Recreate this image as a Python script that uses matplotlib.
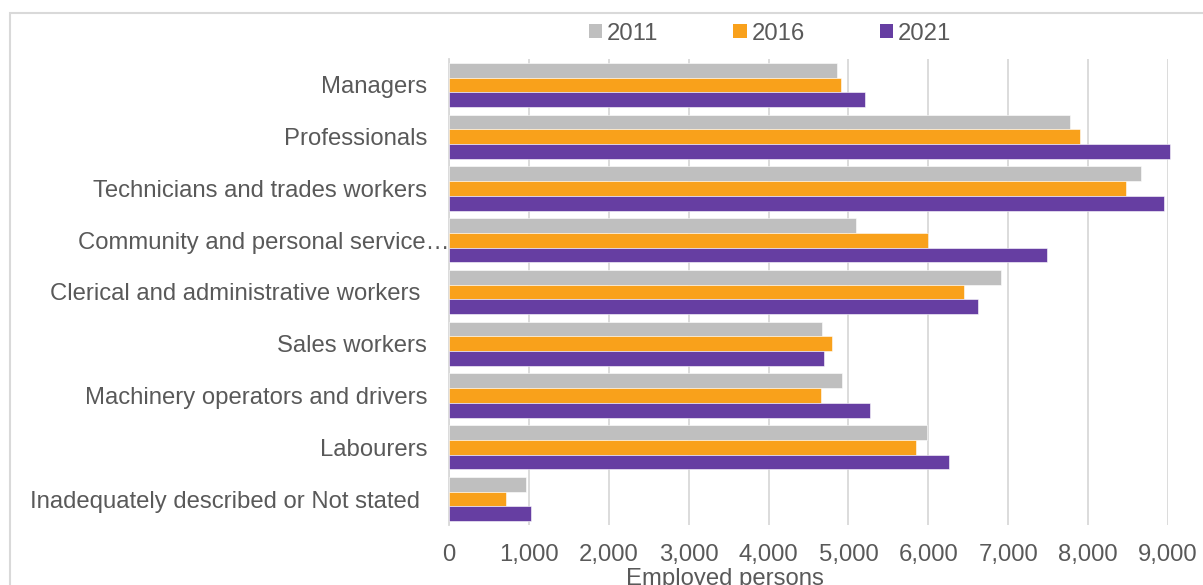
import matplotlib
matplotlib.use("Agg")
import matplotlib.pyplot as plt
import numpy as np
from matplotlib.patches import Patch, Rectangle
from matplotlib.ticker import FuncFormatter
from matplotlib.transforms import ScaledTranslation

# Employed persons by occupation
categories = [
    "Managers",
    "Professionals",
    "Technicians and trades workers",
    "Community and personal service…",
    "Clerical and administrative workers ",
    "Sales workers",
    "Machinery operators and drivers",
    "Labourers",
    "Inadequately described or Not stated ",
]
years = ["2011", "2016", "2021"]
values_2011 = [4860, 7770, 8660, 5100, 6905, 4670, 4920, 5980, 970]
values_2016 = [4905, 7900, 8470, 6000, 6450, 4795, 4655, 5850, 710]
values_2021 = [5210, 9030, 8945, 7485, 6625, 4690, 5270, 6260, 1025]
x_ticks = list(range(0, 9001, 1000))
x_title = "Employed persons"

colors = ["#BFBFBF", "#F9A11B", "#663EA2"]
text_color = "#595959"
grid_color = "#D9D9D9"

plt.rcParams["font.family"] = ["Liberation Sans", "DejaVu Sans"]
FS = 17.2

W, H = 1203, 585
fig = plt.figure(figsize=(W / 100, H / 100), dpi=100)
ax = fig.add_axes([449 / W, 1 - 525 / H, 719 / W, 466 / H])

y = np.arange(len(categories))
bar_h = 0.285
series = [values_2011, values_2016, values_2021]
for k, (vals, col) in enumerate(zip(series, colors)):
    ax.barh(y + (k - 1) * bar_h, vals, height=bar_h, color=col,
            edgecolor="white", linewidth=0.4, clip_on=False, zorder=3)

ax.set_xlim(0, 9000)
ax.set_ylim(len(categories) - 0.5, -0.5)
ax.set_xticks(x_ticks)
ax.xaxis.set_major_formatter(FuncFormatter(lambda v, p: f"{int(v):,}"))
ax.set_yticks(y)
ax.set_yticklabels(categories)

ax.grid(axis="x", color=grid_color, linewidth=1.3, zorder=0)
ax.set_axisbelow(True)
for s in ["top", "right", "bottom"]:
    ax.spines[s].set_visible(False)
ax.spines["left"].set_color(grid_color)
ax.spines["left"].set_linewidth(1.3)

ax.tick_params(axis="both", length=0, labelsize=FS, labelcolor=text_color)
ax.tick_params(axis="y", pad=15.8)
ax.tick_params(axis="x", pad=14)

# the truncated label runs right up to the axis line
lbl = ax.get_yticklabels()[3]
lbl.set_transform(lbl.get_transform() + ScaledTranslation(22 / 100, 0, fig.dpi_scale_trans))

ax.set_xlabel(x_title, fontsize=FS, color=text_color, va="top")
ax.xaxis.set_label_coords(0.384, -0.092)

handles = [Patch(facecolor=c, edgecolor="none") for c in colors]
fig.legend(handles, years, loc="center", bbox_to_anchor=(770 / W, 1 - 33.5 / H),
           ncol=3, frameon=False, fontsize=FS, labelcolor=text_color,
           handlelength=0.55, handleheight=0.55, handletextpad=0.2,
           columnspacing=3.15, borderaxespad=0, borderpad=0)

# chart border
fig.add_artist(Rectangle((10 / W, -0.1), 1.2, 1.1 - 13 / H, transform=fig.transFigure,
                         fill=False, edgecolor=grid_color, linewidth=1.5))

fig.savefig("out.png", dpi=100, facecolor="white")
